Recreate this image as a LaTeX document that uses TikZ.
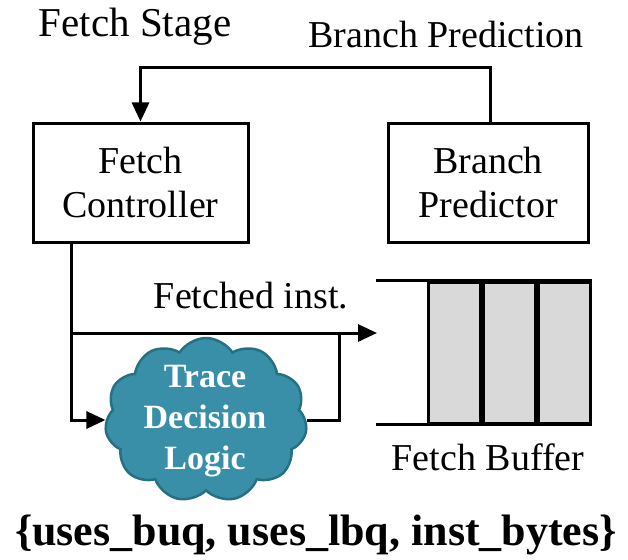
\documentclass[tikz,border=0pt]{standalone}
\usepackage{fontspec}
\setmainfont{Liberation Serif}
\usepackage{tikz}
\usetikzlibrary{positioning, arrows.meta, calc, shapes.symbols}
\usepackage{xcolor}
\definecolor{tealcloud}{RGB}{58,143,168}
\definecolor{tealedge}{RGB}{38,112,132}
\definecolor{bufgray}{RGB}{217,217,217}

\begin{document}
\begin{tikzpicture}[x=1pt, y=-1pt,
    txt/.style={inner sep=0pt, font=\fontsize{38}{44}\selectfont},
    block/.style={draw, line width=3pt, minimum height=119pt, align=center,
        inner sep=0pt, font=\fontsize{38}{44}\selectfont},
    cell/.style={draw, line width=3pt, fill=bufgray, minimum width=52pt,
        minimum height=141pt, inner sep=0pt},
    wire/.style={line width=3pt},
    arrow/.style={wire, -{Triangle[length=19pt,width=17pt]}}]
						\useasboundingbox (0,0) rectangle (628,559);
						\node[txt, anchor=base, font=\fontsize{41}{48}\selectfont] (stage) at (135,37) {Fetch Stage};
						\node[block, minimum width=215pt] (ctrl) at (140.5,182.5) {Fetch\\Controller};
						\node[block, minimum width=200pt] (bp) at (488,182.5) {Branch\\Predictor};
						\node[txt, anchor=base] (bplabel) at (446,48) {Branch Prediction};
						\node[cell] (c1) at (454,352.5) {};
						\node[cell, right=0pt of c1] (c2) {};
						\node[cell, right=0pt of c2] (c3) {};
						\coordinate (bufin) at (377,333);
						\node[txt, anchor=base] (buflabel) at (488,470) {Fetch Buffer};
						\node[txt, anchor=base] (instlabel) at (251,308) {Fetched inst.};
						\node[cloud, cloud puffs=11, cloud puff arc=115, aspect=1.25, draw=tealedge,
							fill=tealcloud, line width=2.5pt, minimum width=202pt, minimum height=164pt,
							inner sep=0pt] (tdl) at (206,420) {};
						\node[txt, align=center, text=white, font=\fontsize{34}{41}\selectfont\bfseries] (tdltext) at (205,421) {Trace\\Decision\\Logic};
						\node[txt, anchor=base, font=\fontsize{44}{50}\selectfont\bfseries] (fields) at (316,545) {\{uses\_buq, uses\_lbq, inst\_bytes\}};
						\coordinate (tap) at ([xshift=40pt]ctrl.south west);
						\draw[wire] ([xshift=-51pt]c1.north west) -- (c3.north east)
							([xshift=-51pt]c1.south west) -- (c3.south east);
						\draw[arrow] ([xshift=2pt]bp.north) -- ++(0,-54) -| (ctrl.north);
						\draw[arrow] (tap) |- (tdl.west);
						\draw[arrow] (tap |- bufin) -- (bufin);
						\draw[wire] (tdl.east) -- ++(33,0) -- ++(0,-87);
					\end{tikzpicture}
\end{document}
